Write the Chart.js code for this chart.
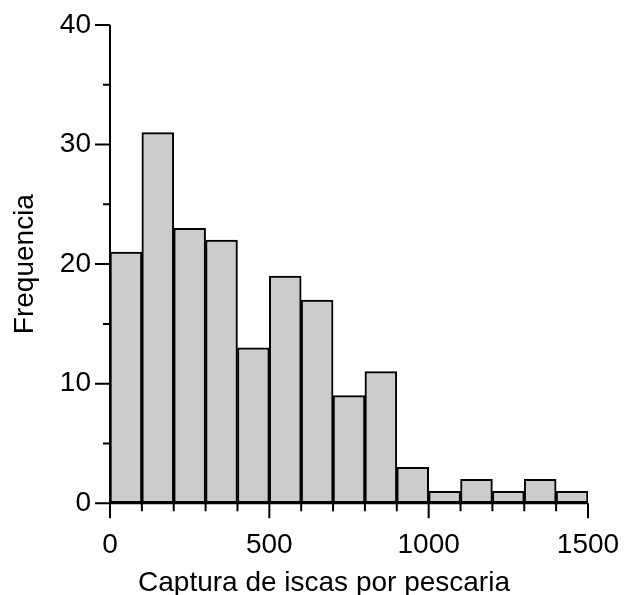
<!DOCTYPE html>
<html>
<head>
<meta charset="utf-8">
<script src="https://cdn.jsdelivr.net/npm/chart.js@4/dist/chart.umd.min.js"></script>
<style>
  html, body { margin: 0; padding: 0; background: #fff; }
  #wrap { width: 634px; height: 595px; }
</style>
</head>
<body>
<div id="wrap"><canvas id="hist"></canvas></div>
<script>
// histogram bins (start of each 100-wide bin) and counts
const binStarts = [0, 100, 200, 300, 400, 500, 600, 700, 800, 900, 1000, 1100, 1200, 1300, 1400];
const counts = [21, 31, 23, 22, 13, 19, 17, 9, 11, 3, 1, 2, 1, 2, 1];
const binWidth = 100;
const xTickLabels = [0, 500, 1000, 1500];
const yTickLabels = [0, 10, 20, 30, 40];

const font = 'Liberation Sans, Arial, sans-serif';

// axis lines + long/short ticks like the original plot
const axesPlugin = {
  id: 'axes',
  afterDraw(chart) {
    const ctx = chart.ctx;
    const xs = chart.scales.x, ys = chart.scales.y;
    const x0 = xs.getPixelForValue(0), y0 = ys.getPixelForValue(0);
    ctx.save();
    ctx.strokeStyle = '#000';
    ctx.lineWidth = 2;
    ctx.lineCap = 'butt';
    ctx.beginPath();
    ctx.moveTo(x0, ys.getPixelForValue(40));
    ctx.lineTo(x0, y0 + 15);
    ctx.moveTo(x0, y0);
    ctx.lineTo(xs.getPixelForValue(1500), y0);
    for (let v = 0; v <= 40; v += 5) {
      const len = yTickLabels.includes(v) ? 15 : 7;
      const p = ys.getPixelForValue(v);
      ctx.moveTo(x0 - len, p);
      ctx.lineTo(x0, p);
    }
    for (let v = 0; v <= 1500; v += binWidth) {
      const len = xTickLabels.includes(v) ? 15 : 8;
      const p = xs.getPixelForValue(v);
      ctx.moveTo(p, y0);
      ctx.lineTo(p, y0 + len);
    }
    ctx.stroke();
    ctx.restore();
  }
};

new Chart(document.getElementById('hist'), {
  type: 'bar',
  data: {
    datasets: [{
      data: binStarts.map((b, i) => ({ x: b + binWidth / 2, y: counts[i] })),
      backgroundColor: '#cccccc',
      borderColor: '#000',
      borderWidth: 2,
      borderSkipped: false,
      barPercentage: 1,
      categoryPercentage: 1
    }]
  },
  options: {
    responsive: true,
    maintainAspectRatio: false,
    animation: false,
    layout: { padding: { top: 25, right: 0, left: 14, bottom: 0 } },
    plugins: {
      legend: { display: false },
      tooltip: { enabled: false },
      title: {
        display: true,
        position: 'bottom',
        text: 'Captura de iscas por pescaria',
        color: '#000',
        font: { family: font, size: 28, weight: 'normal', lineHeight: 0.85 },
        padding: 0
      }
    },
    scales: {
      x: {
        type: 'linear',
        min: 0, max: 1500,
        offset: false,
        grid: { display: true, drawOnChartArea: false, tickLength: 15, color: 'rgba(0,0,0,0)' },
        border: { display: false },
        ticks: {
          stepSize: 100,
          autoSkip: false,
          maxRotation: 0,
          padding: 10,
          color: '#000',
          font: { family: font, size: 28 },
          callback: v => xTickLabels.includes(v) ? String(v) : ''
        },
        afterFit: s => { s.height = 68; }
      },
      y: {
        min: 0, max: 40,
        grid: { display: true, drawOnChartArea: false, tickLength: 15, color: 'rgba(0,0,0,0)' },
        border: { display: false },
        ticks: {
          stepSize: 5,
          autoSkip: false,
          padding: 4,
          color: '#000',
          font: { family: font, size: 28 },
          callback: v => yTickLabels.includes(v) ? String(v) : ''
        },
        title: {
          display: true,
          text: 'Frequencia',
          color: '#000',
          font: { family: font, size: 28, lineHeight: 0.8 },
          padding: 0
        },
        afterFit: s => { s.width = 96; }
      },
      // empty right-hand spacer so the plot area ends where the original does
      yr: {
        position: 'right',
        grid: { display: false },
        border: { display: false },
        ticks: { display: false },
        afterFit: s => { s.width = 46; }
      }
    }
  },
  plugins: [axesPlugin]
});
</script>
</body>
</html>
